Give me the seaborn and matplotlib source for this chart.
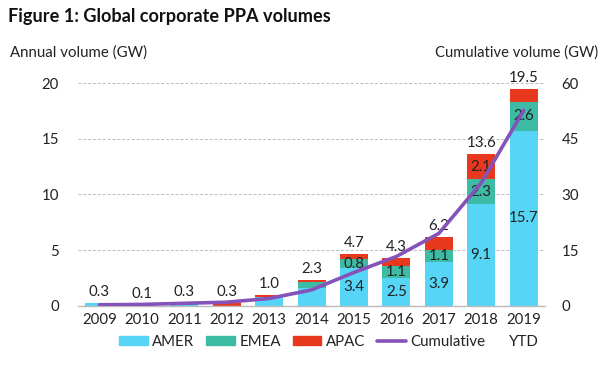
import numpy as np
import pandas as pd
import matplotlib
matplotlib.use("Agg")
import matplotlib.pyplot as plt
import matplotlib.transforms as mtrans
import seaborn as sns
from matplotlib.patches import Patch
from matplotlib.lines import Line2D

years = ["2009", "2010", "2011", "2012", "2013", "2014", "2015", "2016", "2017", "2018", "2019"]
amer = [0.3, 0.1, 0.3, 0.0, 0.8, 1.6, 3.4, 2.5, 3.9, 9.1, 15.7]
emea = [0.0, 0.0, 0.0, 0.0, 0.0, 0.5, 0.8, 1.1, 1.1, 2.3, 2.6]
apac = [0.0, 0.0, 0.0, 0.3, 0.2, 0.2, 0.5, 0.7, 1.2, 2.2, 1.2]
totals = [0.3, 0.1, 0.3, 0.3, 1.0, 2.3, 4.7, 4.3, 6.2, 13.6, 19.5]
cumulative = [0.3, 0.4, 0.7, 1.0, 2.0, 4.3, 9.0, 13.3, 19.5, 33.1, 52.6]
amer_labels = ["", "", "", "", "", "", "3.4", "2.5", "3.9", "9.1", "15.7"]
emea_labels = ["", "", "", "", "", "", "0.8", "1.1", "1.1", "2.3", "2.6"]
apac_labels = ["", "", "", "", "", "", "", "", "", "2.1", ""]

C_AMER = "#56D5F7"
C_EMEA = "#3DBBA4"
C_APAC = "#E8391E"
C_CUM = "#8452B8"
TXT = "#222222"

sns.set_theme(style="white")
plt.rcParams["font.family"] = ["Lato", "DejaVu Sans"]

df = pd.DataFrame({"year": years, "AMER": amer, "EMEA": emea, "APAC": apac})
bottom_emea = df["AMER"].values
bottom_apac = (df["AMER"] + df["EMEA"]).values

fig = plt.figure(figsize=(6.02, 3.69), dpi=100)
ax = fig.add_axes([0.13, 0.171, 0.775, 0.604])

bw = 0.66
sns.barplot(data=df, x="year", y="AMER", color=C_AMER, width=bw, ax=ax, saturation=1, linewidth=0)
sns.barplot(data=df, x="year", y="EMEA", color=C_EMEA, width=bw, ax=ax, saturation=1, linewidth=0, bottom=bottom_emea)
sns.barplot(data=df, x="year", y="APAC", color=C_APAC, width=bw, ax=ax, saturation=1, linewidth=0, bottom=bottom_apac)

ax.set_xlim(-0.5, 10.5)
ax.set_ylim(0, 20)
ax.set_yticks([0, 5, 10, 15, 20])
ax.set_ylabel("")
ax.set_xlabel("")
ax.grid(axis="y", color="#BBBBBB", linestyle=(0, (3, 2)), linewidth=0.7)
ax.set_axisbelow(True)
for s in ["top", "right", "left"]:
    ax.spines[s].set_visible(False)
ax.spines["bottom"].set_color("#BBBBBB")
ax.spines["bottom"].set_linewidth(1.0)
ax.tick_params(axis="y", length=0, labelsize=10.8, labelcolor=TXT, pad=14)
ax.tick_params(axis="x", length=0, labelsize=10.8, labelcolor=TXT, pad=5)
ax.set_xticks(np.arange(len(years) + 1) - 0.5, minor=True)
ax.tick_params(axis="x", which="minor", length=4, color="#BBBBBB", width=1)

x = np.arange(len(years))
for i in range(len(years)):
    ax.text(x[i], totals[i] + 0.35, f"{totals[i]:.1f}", ha="center", va="bottom", fontsize=10.8, color=TXT)
    if amer_labels[i]:
        ax.text(x[i], amer[i] / 2, amer_labels[i], ha="center", va="center", fontsize=10.8, color=TXT)
    if emea_labels[i]:
        ax.text(x[i], bottom_emea[i] + emea[i] / 2, emea_labels[i], ha="center", va="center", fontsize=10.8, color=TXT)
    if apac_labels[i]:
        ax.text(x[i], bottom_apac[i] + apac[i] / 2, apac_labels[i], ha="center", va="center", fontsize=10.8, color=TXT)

ax2 = ax.twinx()
sns.lineplot(x=x, y=cumulative, ax=ax2, color=C_CUM, linewidth=2.6)
ax2.set_ylim(0, 60)
ax2.set_yticks([0, 15, 30, 45, 60])
for s in ["top", "right", "left", "bottom"]:
    ax2.spines[s].set_visible(False)
ax2.tick_params(axis="y", length=0, labelsize=10.8, labelcolor=TXT, pad=12)
ax2.grid(False)
ax2.set_xlim(-0.5, 10.5)

ytd_tr = mtrans.blended_transform_factory(ax.transData, fig.transFigure)
ax.text(x[-1], 0.073, "YTD", transform=ytd_tr, ha="center", va="center", fontsize=10.8, color=TXT)

fig.text(0.013, 0.955, "Figure 1: Global corporate PPA volumes", fontsize=13.1, fontweight="bold", color="#111111", va="center")
fig.text(0.017, 0.858, "Annual volume (GW)", fontsize=10.8, color=TXT, va="center")
fig.text(0.993, 0.858, "Cumulative volume (GW)", fontsize=10.6, color=TXT, va="center", ha="right")

handles = [Patch(color=C_AMER, label="AMER"), Patch(color=C_EMEA, label="EMEA"),
           Patch(color=C_APAC, label="APAC"), Line2D([], [], color=C_CUM, lw=2.6, label="Cumulative")]
fig.legend(handles=handles, loc="center", bbox_to_anchor=(0.502, 0.073), ncol=4, frameon=False,
           fontsize=10.8, handlelength=1.9, handleheight=0.55, columnspacing=0.8, handletextpad=0.3,
           labelcolor=TXT, borderpad=0, borderaxespad=0)

fig.savefig("out.png", dpi=100)
